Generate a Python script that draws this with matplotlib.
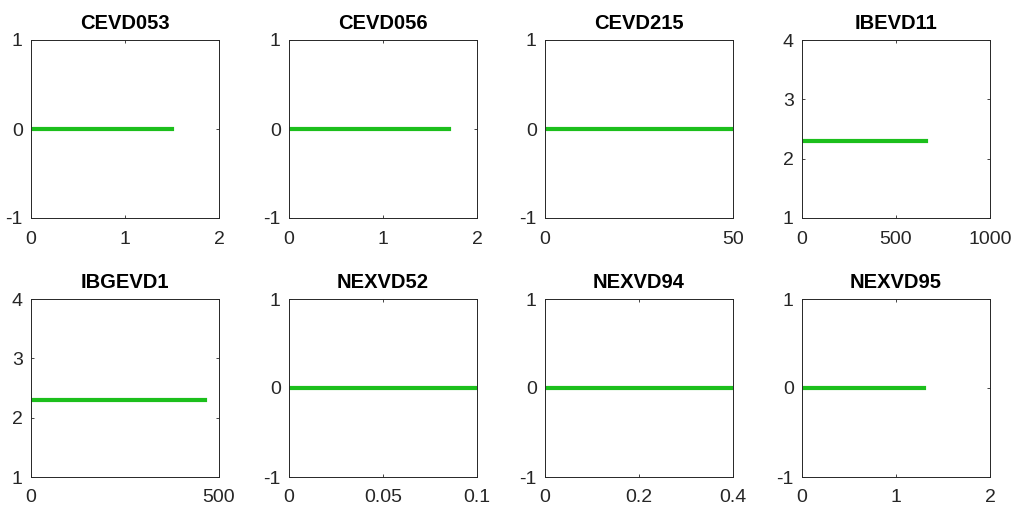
import matplotlib.pyplot as plt

# 各子图数据
titles = ['CEVD053', 'CEVD056', 'CEVD215', 'IBEVD11',
          'IBGEVD1', 'NEXVD52', 'NEXVD94', 'NEXVD95']
x_ends = [1.5, 1.7, 50, 658, 463, 0.1, 0.4, 1.3]
y_vals = [0, 0, 0, 2.3, 2.3, 0, 0, 0]
xlims = [(0, 2), (0, 2), (0, 50), (0, 1000), (0, 500), (0, 0.1), (0, 0.4), (0, 2)]
ylims = [(-1, 1), (-1, 1), (-1, 1), (1, 4), (1, 4), (-1, 1), (-1, 1), (-1, 1)]
xticks = [[0, 1, 2], [0, 1, 2], [0, 50], [0, 500, 1000], [0, 500],
          [0, 0.05, 0.1], [0, 0.2, 0.4], [0, 1, 2]]
xticklabels = [['0', '1', '2'], ['0', '1', '2'], ['0', '50'], ['0', '500', '1000'],
               ['0', '500'], ['0', '0.05', '0.1'], ['0', '0.2', '0.4'], ['0', '1', '2']]
yticks = [[-1, 0, 1], [-1, 0, 1], [-1, 0, 1], [1, 2, 3, 4], [1, 2, 3, 4],
          [-1, 0, 1], [-1, 0, 1], [-1, 0, 1]]

plt.rcParams['font.family'] = ['Liberation Sans', 'DejaVu Sans']

W, H = 1014, 508
fig = plt.figure(figsize=(W / 100, H / 100), dpi=100)

lefts = [31, 289, 545, 802]
tops = [40, 299]
aw, ah = 188, 178

for i in range(8):
    r, c = divmod(i, 4)
    ax = fig.add_axes([lefts[c] / W, 1 - (tops[r] + ah) / H, aw / W, ah / H])
    ax.plot([0, x_ends[i]], [y_vals[i], y_vals[i]], color='#1cbf1c', lw=3)
    ax.set_xlim(xlims[i])
    ax.set_ylim(ylims[i])
    ax.set_xticks(xticks[i])
    ax.set_xticklabels(xticklabels[i])
    ax.set_yticks(yticks[i])
    ax.set_yticklabels([str(v) for v in yticks[i]])
    ax.tick_params(direction='in', length=2, width=0.6, labelsize=14,
                   colors='#262626', top=True, right=True)
    ax.tick_params(axis='x', pad=9)
    ax.tick_params(axis='y', pad=6)
    for s in ax.spines.values():
        s.set_linewidth(0.7)
        s.set_color('#262626')
    ax.set_title(titles[i], fontsize=14.5, fontweight='bold', pad=8)

fig.savefig('out.png', dpi=100)
